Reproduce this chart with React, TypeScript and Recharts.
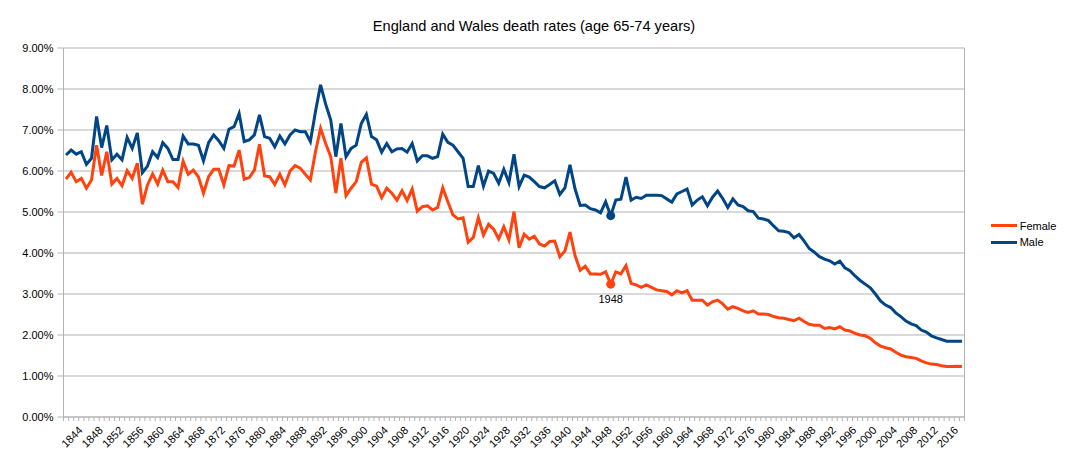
import React from 'react';
import { LineChart, Line, XAxis, YAxis, CartesianGrid, Legend } from 'recharts';

const YEARS = [
  1841, 1842, 1843, 1844, 1845, 1846, 1847, 1848, 1849, 1850,
  1851, 1852, 1853, 1854, 1855, 1856, 1857, 1858, 1859, 1860,
  1861, 1862, 1863, 1864, 1865, 1866, 1867, 1868, 1869, 1870,
  1871, 1872, 1873, 1874, 1875, 1876, 1877, 1878, 1879, 1880,
  1881, 1882, 1883, 1884, 1885, 1886, 1887, 1888, 1889, 1890,
  1891, 1892, 1893, 1894, 1895, 1896, 1897, 1898, 1899, 1900,
  1901, 1902, 1903, 1904, 1905, 1906, 1907, 1908, 1909, 1910,
  1911, 1912, 1913, 1914, 1915, 1916, 1917, 1918, 1919, 1920,
  1921, 1922, 1923, 1924, 1925, 1926, 1927, 1928, 1929, 1930,
  1931, 1932, 1933, 1934, 1935, 1936, 1937, 1938, 1939, 1940,
  1941, 1942, 1943, 1944, 1945, 1946, 1947, 1948, 1949, 1950,
  1951, 1952, 1953, 1954, 1955, 1956, 1957, 1958, 1959, 1960,
  1961, 1962, 1963, 1964, 1965, 1966, 1967, 1968, 1969, 1970,
  1971, 1972, 1973, 1974, 1975, 1976, 1977, 1978, 1979, 1980,
  1981, 1982, 1983, 1984, 1985, 1986, 1987, 1988, 1989, 1990,
  1991, 1992, 1993, 1994, 1995, 1996, 1997, 1998, 1999, 2000,
  2001, 2002, 2003, 2004, 2005, 2006, 2007, 2008, 2009, 2010,
  2011, 2012, 2013, 2014, 2015, 2016, 2017,
];

// death rates, percent
const FEMALE = [
  5.80, 5.97, 5.74, 5.82, 5.58, 5.78, 6.63, 5.89, 6.47, 5.68,
  5.82, 5.64, 6.01, 5.82, 6.19, 5.19, 5.66, 5.93, 5.68, 6.02,
  5.74, 5.74, 5.60, 6.24, 5.92, 6.02, 5.86, 5.46, 5.86, 6.04,
  6.04, 5.66, 6.13, 6.12, 6.51, 5.80, 5.84, 6.02, 6.65, 5.88,
  5.86, 5.67, 5.92, 5.66, 6.00, 6.13, 6.07, 5.92, 5.78, 6.47,
  7.04, 6.67, 6.35, 5.46, 6.31, 5.40, 5.58, 5.74, 6.21, 6.32,
  5.68, 5.63, 5.35, 5.58, 5.46, 5.29, 5.52, 5.28, 5.56, 5.02,
  5.13, 5.15, 5.05, 5.11, 5.59, 5.25, 4.93, 4.83, 4.86, 4.26,
  4.38, 4.86, 4.44, 4.70, 4.58, 4.34, 4.64, 4.32, 5.01, 4.13,
  4.46, 4.34, 4.41, 4.22, 4.17, 4.28, 4.29, 3.91, 4.05, 4.51,
  3.93, 3.58, 3.68, 3.49, 3.49, 3.48, 3.54, 3.24, 3.54, 3.49,
  3.69, 3.26, 3.22, 3.16, 3.22, 3.16, 3.10, 3.08, 3.06, 2.98,
  3.08, 3.03, 3.08, 2.85, 2.85, 2.85, 2.73, 2.81, 2.85, 2.76,
  2.63, 2.69, 2.65, 2.59, 2.55, 2.59, 2.51, 2.51, 2.50, 2.45,
  2.42, 2.41, 2.38, 2.35, 2.41, 2.33, 2.26, 2.24, 2.24, 2.16,
  2.18, 2.15, 2.20, 2.12, 2.10, 2.04, 2.00, 1.98, 1.92, 1.81,
  1.73, 1.69, 1.66, 1.58, 1.51, 1.47, 1.45, 1.43, 1.37, 1.32,
  1.29, 1.28, 1.25, 1.23, 1.23, 1.24, 1.23,
];

const MALE = [
  6.39, 6.51, 6.41, 6.47, 6.16, 6.31, 7.33, 6.57, 7.11, 6.27,
  6.41, 6.27, 6.82, 6.55, 6.93, 5.96, 6.12, 6.47, 6.33, 6.69,
  6.55, 6.28, 6.28, 6.85, 6.66, 6.66, 6.63, 6.25, 6.69, 6.88,
  6.74, 6.55, 7.02, 7.08, 7.40, 6.72, 6.76, 6.88, 7.37, 6.84,
  6.80, 6.59, 6.85, 6.66, 6.88, 7.00, 6.96, 6.96, 6.72, 7.45,
  8.10, 7.63, 7.24, 6.35, 7.16, 6.35, 6.55, 6.63, 7.16, 7.38,
  6.84, 6.76, 6.46, 6.67, 6.47, 6.54, 6.55, 6.46, 6.67, 6.24,
  6.37, 6.37, 6.31, 6.35, 6.90, 6.70, 6.63, 6.47, 6.31, 5.62,
  5.62, 6.13, 5.63, 6.00, 5.94, 5.70, 6.04, 5.72, 6.41, 5.62,
  5.90, 5.85, 5.74, 5.62, 5.59, 5.67, 5.76, 5.43, 5.59, 6.15,
  5.56, 5.16, 5.17, 5.08, 5.05, 4.98, 5.25, 4.91, 5.29, 5.31,
  5.85, 5.29, 5.36, 5.33, 5.41, 5.41, 5.41, 5.40, 5.32, 5.24,
  5.44, 5.50, 5.56, 5.17, 5.29, 5.37, 5.15, 5.36, 5.51, 5.33,
  5.11, 5.32, 5.17, 5.13, 5.03, 5.01, 4.85, 4.83, 4.79, 4.66,
  4.54, 4.53, 4.50, 4.37, 4.45, 4.29, 4.11, 4.02, 3.91, 3.85,
  3.81, 3.73, 3.80, 3.64, 3.57, 3.44, 3.33, 3.24, 3.15, 3.00,
  2.83, 2.73, 2.67, 2.54, 2.45, 2.34, 2.27, 2.23, 2.12, 2.07,
  1.98, 1.93, 1.89, 1.85, 1.85, 1.85, 1.85,
];

const Y_TICKS = [0, 1, 2, 3, 4, 5, 6, 7, 8, 9];
const LABEL_EVERY = 4;
const MARKED_YEAR = 1948;
const TITLE = 'England and Wales death rates (age 65-74 years)';
const FEMALE_NAME = 'Female';
const MALE_NAME = 'Male';
const FEMALE_COLOR = '#ff420e';
const MALE_COLOR = '#004586';
const GRID = '#b3b3b3';
const FONT = '"Liberation Sans", Arial, Helvetica, sans-serif';

const data = YEARS.map((year, i) => ({ year, female: FEMALE[i], male: MALE[i] }));

const CHART_W = 1061;
const CHART_H = 460;
const MARGIN = { top: 40, right: 103.5, bottom: 6, left: 0 };
const Y_AXIS_W = 55.5;
const RIGHT_AXIS_W = 1;
const PLOT_W = CHART_W - MARGIN.left - MARGIN.right - Y_AXIS_W - RIGHT_AXIS_W;
const BAND = PLOT_W / YEARS.length;

const XTick = (props: any) => {
  const { x, y, payload, index } = props;
  const year = payload.value;
  const left = x - BAND / 2;
  const tx = x + 2;
  const ty = y + 14;
  return (
    <g>
      <line x1={left} y1={y} x2={left} y2={y + 4} stroke={GRID} />
      {index === YEARS.length - 1 && (
        <line x1={x + BAND / 2} y1={y} x2={x + BAND / 2} y2={y + 4} stroke={GRID} />
      )}
      {year % LABEL_EVERY === 0 && (
        <text
          x={tx}
          y={ty}
          textAnchor="end"
          transform={`rotate(-45 ${tx} ${ty})`}
          fontSize={11}
          fontFamily={FONT}
          fill="#000"
        >
          {year}
        </text>
      )}
    </g>
  );
};

const makeDot = (color: string, withLabel: boolean) => (props: any) => {
  const { cx, cy, payload, index } = props;
  if (!payload || payload.year !== MARKED_YEAR) return <g key={`dot-${index}`} />;
  return (
    <g key={`dot-${index}`}>
      <circle cx={cx} cy={cy} r={4.5} fill={color} />
      {withLabel && (
        <text x={cx} y={cy + 19} textAnchor="middle" fontSize={11} fontFamily={FONT} fill="#000">
          {payload.year}
        </text>
      )}
    </g>
  );
};

const LegendContent = (props: any) => {
  const items = props.payload || [];
  return (
    <div style={{ fontFamily: FONT, fontSize: 11, color: '#000' }}>
      {items.map((e: any) => (
        <div key={e.value} style={{ display: 'flex', alignItems: 'center', height: 16.6 }}>
          <span
            style={{ display: 'inline-block', width: 26, height: 3, background: e.color, marginRight: 3 }}
          />
          <span>{e.value}</span>
        </div>
      ))}
    </div>
  );
};

export default function App() {
  return (
    <div style={{ position: 'relative', width: CHART_W, height: CHART_H, fontFamily: FONT }}>
      <div
        style={{
          position: 'absolute',
          left: 0,
          top: 10,
          width: 1052,
          textAlign: 'center',
          fontSize: 14.6,
          lineHeight: '16px',
          color: '#000',
          fontFamily: FONT,
          zIndex: 2,
        }}
      >
        {TITLE}
      </div>
      <LineChart width={CHART_W} height={CHART_H} data={data} margin={MARGIN}>
        <CartesianGrid vertical={false} stroke={GRID} />
        <XAxis
          type="number"
          dataKey="year"
          domain={[YEARS[0] - 0.5, YEARS[YEARS.length - 1] + 0.5]}
          ticks={YEARS}
          interval={0}
          allowDataOverflow
          tick={<XTick />}
          tickLine={false}
          tickSize={0}
          tickMargin={0}
          axisLine={{ stroke: GRID }}
          height={45}
        />
        <YAxis
          domain={[0, 9]}
          ticks={Y_TICKS}
          interval={0}
          width={Y_AXIS_W}
          tickSize={6}
          tickMargin={4}
          tickFormatter={(v: number) => `${v.toFixed(2)}%`}
          tick={{ fill: '#000', fontSize: 11, fontFamily: FONT }}
          tickLine={{ stroke: GRID }}
          axisLine={{ stroke: GRID }}
        />
        <YAxis
          yAxisId="right"
          orientation="right"
          domain={[0, 9]}
          width={RIGHT_AXIS_W}
          tick={false}
          tickLine={false}
          axisLine={{ stroke: GRID }}
        />
        <Legend
          layout="horizontal"
          align="center"
          verticalAlign="middle"
          wrapperStyle={{ left: 982.7, top: 209.4, width: 78 }}
          content={LegendContent}
        />
        <Line
          type="linear"
          dataKey="female"
          name={FEMALE_NAME}
          stroke={FEMALE_COLOR}
          strokeWidth={3}
          dot={makeDot(FEMALE_COLOR, true)}
          activeDot={false}
          isAnimationActive={false}
        />
        <Line
          type="linear"
          dataKey="male"
          name={MALE_NAME}
          stroke={MALE_COLOR}
          strokeWidth={3}
          dot={makeDot(MALE_COLOR, false)}
          activeDot={false}
          isAnimationActive={false}
        />
      </LineChart>
    </div>
  );
}
